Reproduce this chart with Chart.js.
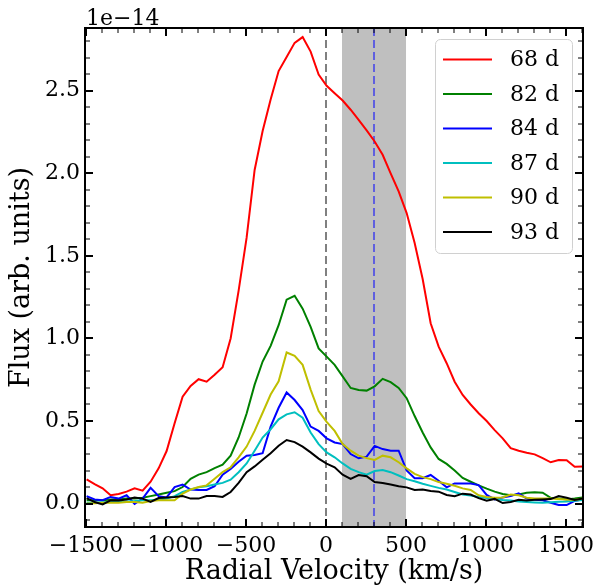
<!DOCTYPE html>
<html>
<head>
<meta charset="utf-8">
<script src="https://cdn.jsdelivr.net/npm/chart.js@4/dist/chart.umd.min.js"></script>
<style>
html,body{margin:0;padding:0;background:#fff;}
canvas{display:block;}
</style>
</head>
<body>
<canvas id="c" width="597" height="588"></canvas>
<script>
// ---- data (flux in units of 1e-14) ----
const velocity = [-1496,-1446,-1396,-1346,-1296,-1246,-1196,-1146,-1096,-1046,-996,-946,-896,-846,-796,-746,-696,-646,-596,-546,-496,-446,-396,-346,-296,-246,-196,-146,-96,-46,4,54,104,154,204,254,304,354,404,454,504,554,604,654,704,754,804,854,904,954,1004,1054,1104,1154,1204,1254,1304,1354,1404,1454,1504,1554,1604];

const flux68 = [0.146,0.118,0.092,0.050,0.058,0.072,0.092,0.078,0.132,0.213,0.318,0.486,0.647,0.712,0.753,0.738,0.780,0.825,1.000,1.290,1.610,2.020,2.256,2.447,2.619,2.704,2.790,2.825,2.737,2.598,2.530,2.485,2.441,2.385,2.324,2.260,2.193,2.112,2.000,1.890,1.759,1.578,1.360,1.092,0.950,0.850,0.738,0.658,0.600,0.547,0.500,0.445,0.395,0.335,0.320,0.308,0.298,0.275,0.250,0.264,0.262,0.223,0.225];
const flux82 = [0.020,0.020,0.020,0.025,0.025,0.030,0.030,0.035,0.045,0.055,0.065,0.075,0.100,0.150,0.175,0.190,0.215,0.235,0.290,0.400,0.545,0.720,0.860,0.955,1.080,1.235,1.258,1.180,1.070,0.940,0.890,0.840,0.770,0.700,0.688,0.684,0.710,0.755,0.735,0.700,0.638,0.530,0.430,0.340,0.270,0.240,0.200,0.155,0.132,0.110,0.090,0.072,0.058,0.050,0.055,0.065,0.068,0.066,0.035,0.030,0.025,0.030,0.037];
const flux84 = [0.045,0.025,0.020,0.040,0.030,0.050,-0.003,0.030,0.095,0.045,0.037,0.100,0.115,0.085,0.082,0.082,0.105,0.175,0.210,0.253,0.290,0.294,0.305,0.466,0.580,0.673,0.627,0.566,0.466,0.440,0.395,0.370,0.360,0.300,0.274,0.284,0.349,0.330,0.320,0.320,0.200,0.153,0.153,0.173,0.138,0.098,0.122,0.122,0.122,0.112,0.052,0.025,0.037,0.045,0.062,0.030,0.023,0.020,0.005,-0.009,-0.009,0.017,0.025];
const flux87 = [0.005,0.005,0.008,0.010,0.010,0.012,0.015,0.020,0.020,0.025,0.030,0.045,0.070,0.085,0.098,0.105,0.115,0.125,0.145,0.190,0.243,0.320,0.400,0.450,0.510,0.540,0.553,0.520,0.430,0.360,0.310,0.280,0.243,0.210,0.190,0.175,0.197,0.203,0.190,0.170,0.148,0.135,0.120,0.107,0.095,0.085,0.070,0.055,0.048,0.040,0.033,0.028,0.022,0.018,0.013,0.010,0.007,0.005,0.008,0.011,0.013,0.017,0.021];
const flux90 = [0.000,0.002,0.005,0.005,0.005,0.010,0.010,0.005,0.015,0.020,0.020,0.020,0.060,0.085,0.100,0.110,0.150,0.190,0.220,0.280,0.345,0.440,0.550,0.660,0.740,0.915,0.895,0.840,0.690,0.560,0.495,0.440,0.360,0.320,0.290,0.275,0.264,0.290,0.280,0.250,0.213,0.180,0.160,0.148,0.130,0.120,0.108,0.092,0.082,0.050,0.040,0.035,0.037,0.055,0.050,0.035,0.031,0.031,0.030,0.028,0.025,0.022,0.031];
const flux93 = [0.033,0.009,-0.005,0.020,0.018,0.024,0.037,0.030,0.010,0.033,0.037,0.040,0.045,0.030,0.030,0.045,0.045,0.040,0.070,0.125,0.190,0.225,0.265,0.305,0.350,0.385,0.372,0.345,0.310,0.272,0.242,0.220,0.175,0.150,0.173,0.165,0.130,0.125,0.115,0.105,0.098,0.082,0.085,0.076,0.072,0.052,0.045,0.060,0.055,0.033,0.017,0.028,0.003,0.010,0.023,0.018,0.023,0.025,0.027,0.045,0.035,0.022,0.031];

const seriesLabels = ['68 d','82 d','84 d','87 d','90 d','93 d'];
const seriesColors = ['#ff0000','#008000','#0000ff','#00bfbf','#bfbf00','#000000'];
const seriesValues = [flux68, flux82, flux84, flux87, flux90, flux93];

const xTickValues = [-1500,-1000,-500,0,500,1000,1500];
const yTickValues = [0.0,0.5,1.0,1.5,2.0,2.5];
const xRange = [-1506, 1606];
const yRange = [-0.142, 2.88];
const shadedRange = [100, 500];
const restLine = 0;
const markLine = 300;
const offsetText = '1e\u221214';

const FONT = "'DejaVu Serif'";

function fmtX(v){ return v < 0 ? '\u2212' + Math.abs(v) : String(v); }
function fmtY(v){ return (v < 0 ? '\u2212' : '') + Math.abs(v).toFixed(1); }

const datasets = seriesValues.map((vals, i) => ({
  label: seriesLabels[i],
  data: velocity.map((v, j) => ({x: v, y: vals[j]})),
  borderColor: seriesColors[i],
  backgroundColor: seriesColors[i],
  borderWidth: 2,
  pointRadius: 0,
  tension: 0,
  fill: false,
  order: seriesValues.length - i
}));

const decor = {
  id: 'decor',
  beforeDatasetsDraw(chart) {
    const {ctx, chartArea: a, scales: {x}} = chart;
    ctx.save();
    ctx.beginPath();
    ctx.rect(a.left, a.top, a.right - a.left, a.bottom - a.top);
    ctx.clip();
    const x1 = x.getPixelForValue(shadedRange[0]);
    const x2 = x.getPixelForValue(shadedRange[1]);
    ctx.fillStyle = 'rgba(128,128,128,0.5)';
    ctx.fillRect(x1, a.top, x2 - x1, a.bottom - a.top);
    ctx.lineWidth = 2;
    ctx.setLineDash([8, 4]);
    ctx.strokeStyle = '#808080';
    let px = x.getPixelForValue(restLine);
    ctx.beginPath(); ctx.moveTo(px, a.top); ctx.lineTo(px, a.bottom); ctx.stroke();
    ctx.strokeStyle = 'rgba(0,0,255,0.5)';
    px = x.getPixelForValue(markLine);
    ctx.beginPath(); ctx.moveTo(px, a.top); ctx.lineTo(px, a.bottom); ctx.stroke();
    ctx.restore();
  },
  afterDraw(chart) {
    const {ctx, chartArea: a, scales: {x, y}} = chart;
    ctx.save();
    ctx.strokeStyle = '#000';
    const tick = (p, len, w, vertical) => {
      ctx.lineWidth = w;
      ctx.beginPath();
      if (vertical) {
        ctx.moveTo(p, a.bottom); ctx.lineTo(p, a.bottom - len);
        ctx.moveTo(p, a.top); ctx.lineTo(p, a.top + len);
      } else {
        ctx.moveTo(a.left, p); ctx.lineTo(a.left + len, p);
        ctx.moveTo(a.right, p); ctx.lineTo(a.right - len, p);
      }
      ctx.stroke();
    };
    for (let v = -1500; v <= 1600; v += 100) {
      const major = xTickValues.includes(v);
      tick(Math.round(x.getPixelForValue(v)), major ? 8 : 5, major ? 2 : 1, true);
    }
    for (let k = -1; k <= 28; k++) {
      const v = k / 10;
      const major = yTickValues.some(t => Math.abs(t - v) < 1e-9);
      tick(Math.round(y.getPixelForValue(v)), major ? 8 : 5, major ? 2 : 1, false);
    }
    ctx.lineWidth = 2;
    ctx.strokeRect(a.left, a.top, a.right - a.left, a.bottom - a.top);
    ctx.fillStyle = '#000';
    ctx.font = '22px ' + FONT;
    ctx.textAlign = 'left';
    ctx.textBaseline = 'alphabetic';
    ctx.fillText(offsetText, 86, 25);
    const lx = 435, ly = 39, lw = 137, lh = 214;
    ctx.beginPath();
    ctx.roundRect(lx + 0.5, ly + 0.5, lw, lh, 5);
    ctx.fillStyle = 'rgba(255,255,255,0.8)';
    ctx.fill();
    ctx.strokeStyle = '#d0d0d0';
    ctx.lineWidth = 1;
    ctx.stroke();
    ctx.textBaseline = 'middle';
    chart.data.datasets.forEach((ds, i) => {
      const ry = 59.5 + 34.5 * i;
      ctx.strokeStyle = ds.borderColor;
      ctx.lineWidth = 2;
      ctx.beginPath(); ctx.moveTo(443, ry); ctx.lineTo(492, ry); ctx.stroke();
      ctx.fillStyle = '#000';
      ctx.fillText(ds.label, 510, ry + 1);
    });
    ctx.restore();
  }
};

function zeroPad(s) { s.paddingLeft = 0; s.paddingRight = 0; s.paddingTop = 0; s.paddingBottom = 0; }

new Chart(document.getElementById('c'), {
  type: 'line',
  data: { datasets },
  options: {
    responsive: false,
    animation: false,
    devicePixelRatio: 1,
    layout: { padding: { top: 28, right: 14, left: 0, bottom: 0 } },
    plugins: { legend: { display: false }, tooltip: { enabled: false } },
    scales: {
      x: {
        type: 'linear', min: xRange[0], max: xRange[1],
        grid: { display: false, drawTicks: false },
        border: { display: false },
        afterBuildTicks: s => { s.ticks = xTickValues.map(v => ({value: v})); },
        ticks: {
          autoSkip: false, maxRotation: 0, minRotation: 0,
          color: '#000', font: { family: FONT, size: 22 }, padding: 6,
          callback: v => fmtX(v)
        },
        title: { display: true, text: 'Radial Velocity (km/s)', color: '#000',
          font: { family: FONT, size: 27 }, padding: { top: 0, bottom: 0 } },
        afterFit: s => { s.height = 61; zeroPad(s); }
      },
      y: {
        type: 'linear', min: yRange[0], max: yRange[1],
        grid: { display: false, drawTicks: false },
        border: { display: false },
        afterBuildTicks: s => { s.ticks = yTickValues.map(v => ({value: v})); },
        ticks: {
          autoSkip: false,
          color: '#000', font: { family: FONT, size: 22 }, padding: 5,
          callback: v => fmtY(v)
        },
        title: { display: true, text: 'Flux (arb. units)', color: '#000',
          font: { family: FONT, size: 27 }, padding: { top: 6, bottom: 0 } },
        afterFit: s => { s.width = 85; zeroPad(s); }
      }
    }
  },
  plugins: [decor]
});
</script>
</body>
</html>
